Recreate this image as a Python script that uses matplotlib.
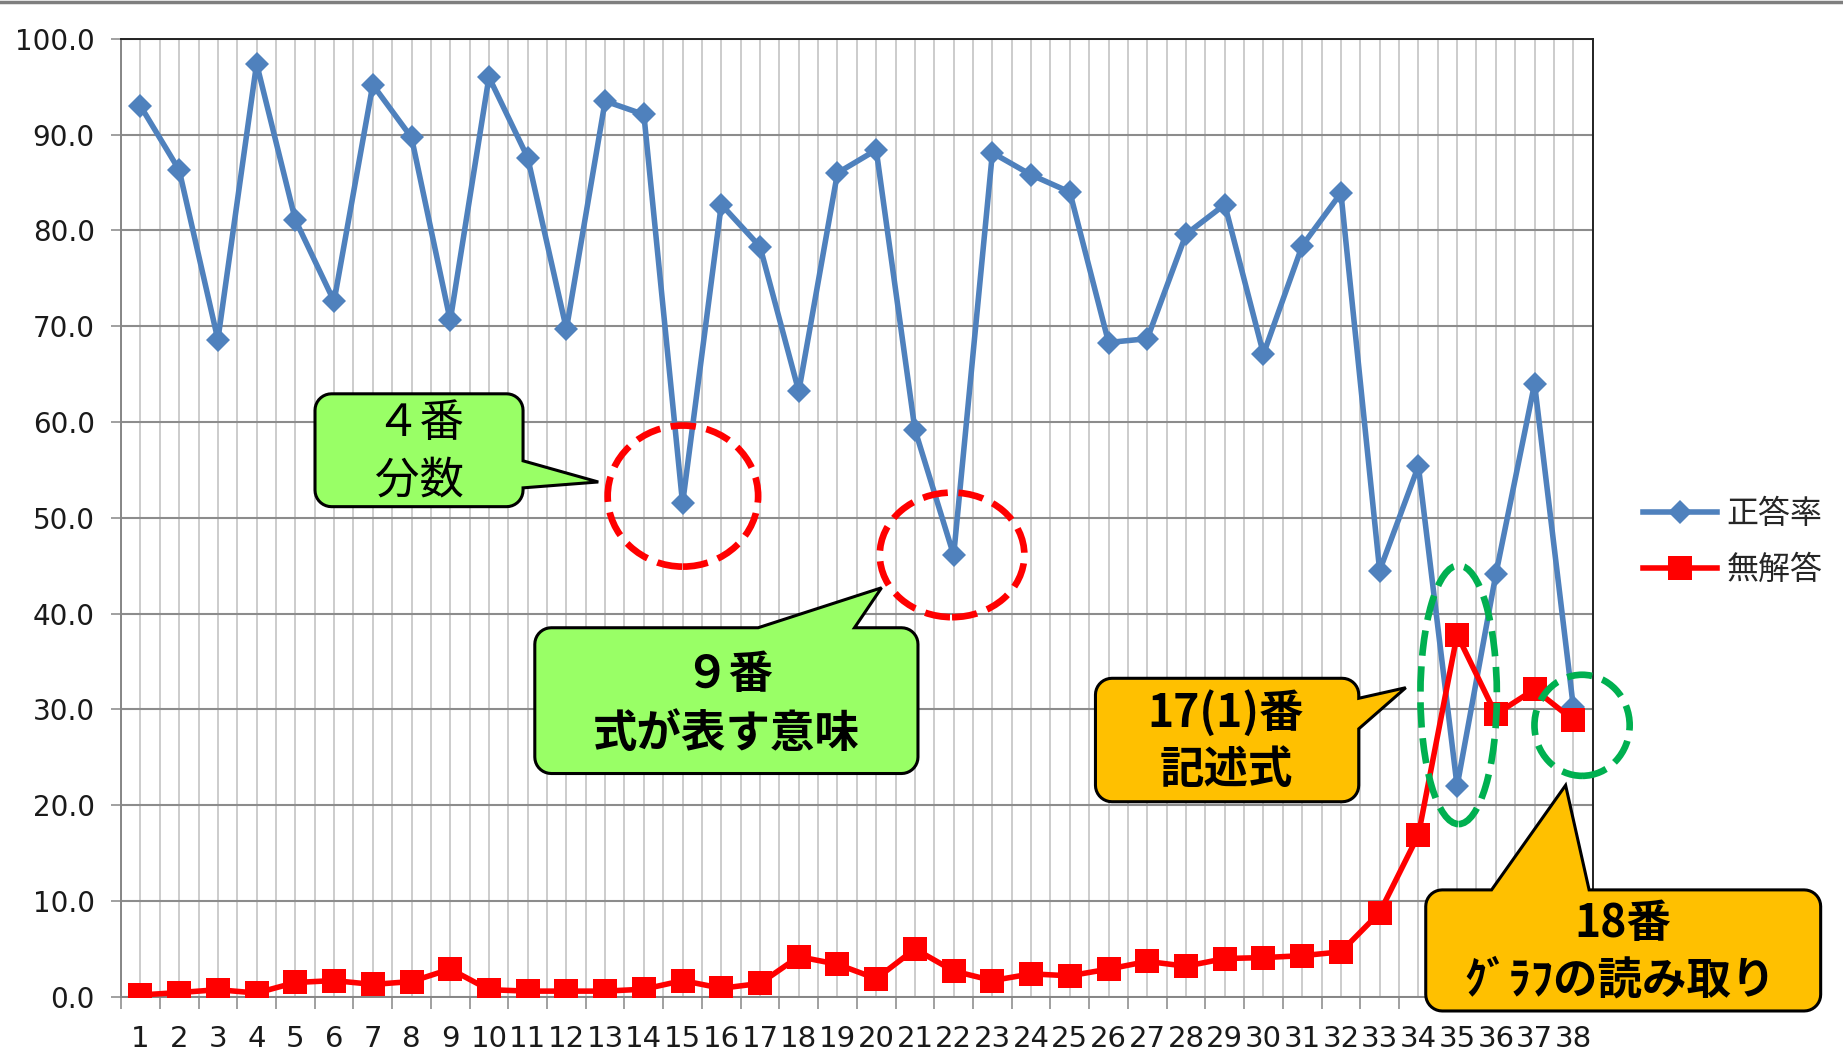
import numpy as np
import matplotlib.pyplot as plt
from matplotlib.patches import Polygon, Ellipse
from matplotlib.lines import Line2D

plt.rcParams['font.family'] = ['Noto Sans CJK JP', 'DejaVu Sans']

# data
questions = list(range(1, 39))
correct_rate = [93.0, 86.3, 68.6, 97.4, 81.1, 72.6, 95.2, 89.7, 70.6, 96.0,
                87.6, 69.7, 93.5, 92.1, 51.5, 82.7, 78.3, 63.2, 86.0, 88.4,
                59.2, 46.1, 88.1, 85.8, 84.0, 68.3, 68.7, 79.6, 82.7, 67.1,
                78.4, 83.9, 44.5, 55.4, 22.0, 44.1, 64.0, 30.3]
no_answer_rate = [0.2, 0.45, 0.75, 0.4, 1.5, 1.7, 1.3, 1.6, 2.9, 0.75,
                  0.6, 0.6, 0.6, 0.8, 1.7, 0.9, 1.4, 4.2, 3.4, 1.9,
                  5.0, 2.7, 1.7, 2.4, 2.2, 2.9, 3.7, 3.2, 4.0, 4.1,
                  4.3, 4.7, 8.8, 16.9, 37.8, 29.5, 32.1, 28.9]
y_ticks = np.arange(0, 101, 10)

# layout is sketched on a 1568x900 grid (y down), converted to figure fraction
W, H = 1568, 900


def px(x, y):
    return (x / W, 1 - y / H)


fig = plt.figure(figsize=(18.43, 10.58), dpi=100)
ax = fig.add_axes([103 / W, 1 - 848 / H, (1355 - 103) / W, (848 - 33) / H])

ax.plot(questions, correct_rate, color='#4F81BD', lw=4, marker='D', ms=12.5,
        mew=0, label='正答率', zorder=3)
ax.plot(questions, no_answer_rate, color='#FF0000', lw=4, marker='s', ms=17,
        mew=0, label='無解答', zorder=4)

ax.set_xlim(0.5, 38.5)
ax.set_ylim(0, 100)
ax.set_xticks(np.arange(0.5, 39, 1))
ax.set_xticklabels([])
ax.set_xticks(questions, minor=True)
ax.set_xticklabels([str(q) for q in questions], minor=True)
ax.tick_params(axis='x', which='major', length=8.5, width=1.1, color='#868686')
ax.tick_params(axis='x', which='minor', length=0, pad=20, labelsize=21,
               labelcolor='#1a1a1a')
ax.set_yticks(y_ticks)
ax.set_yticklabels([f'{v:.1f}' for v in y_ticks])
ax.tick_params(axis='y', length=7, width=1.1, color='#868686', pad=12,
               labelsize=20, labelcolor='#1a1a1a')
for lab in ax.get_xticklabels(minor=True) + ax.get_yticklabels():
    lab.set_family('DejaVu Sans')

ax.grid(axis='x', which='both', color='#BFBFBF', lw=1.1)
ax.grid(axis='y', which='major', color='#8C8C8C', lw=1.5)
ax.set_axisbelow(True)
for s in ['left', 'bottom']:
    ax.spines[s].set_color('#868686')
    ax.spines[s].set_linewidth(1.4)
for s in ['top', 'right']:
    ax.spines[s].set_color('#222222')
    ax.spines[s].set_linewidth(1.4)

ax.legend(loc='center left', bbox_to_anchor=px(1398, 461),
          bbox_transform=fig.transFigure, frameon=False, fontsize=23,
          handlelength=2.3, handletextpad=0.3, labelspacing=0.75,
          borderpad=0, borderaxespad=0, labelcolor='#262626')

# gray rule along the top edge
fig.add_artist(Line2D([0, 1], [1 - 1.5 / H] * 2, transform=fig.transFigure,
                      color='#7F7F7F', lw=2.5))


def callout(x0, y0, x1, y1, side, a, b, tip, color, r=14):
    pts = []

    def arc(cx, cy, t0, t1):
        for t in np.linspace(t0, t1, 10):
            pts.append((cx + r * np.cos(t), cy + r * np.sin(t)))

    arc(x0 + r, y0 + r, np.pi, 1.5 * np.pi)
    if side == 'top':
        pts.extend([(a, y0), tip, (b, y0)])
    arc(x1 - r, y0 + r, 1.5 * np.pi, 2 * np.pi)
    if side == 'right':
        pts.extend([(x1, a), tip, (x1, b)])
    arc(x1 - r, y1 - r, 0, 0.5 * np.pi)
    arc(x0 + r, y1 - r, 0.5 * np.pi, np.pi)
    fig.add_artist(Polygon([px(*p) for p in pts], closed=True,
                           transform=fig.transFigure, facecolor=color,
                           edgecolor='black', lw=2.2, zorder=6))


def ring(cx, cy, w, h, color):
    fig.add_artist(Ellipse(px(cx, cy), w / W, h / H, transform=fig.transFigure,
                           fill=False, edgecolor=color, lw=4.8,
                           linestyle=(0, (3.8, 1.6)), zorder=5))


def label(x, y, s, weight='normal'):
    fig.text(*px(x, y), s, ha='center', va='center', fontsize=32,
             weight=weight, color='black', zorder=7)


ring(581, 422, 128, 120, '#FF0000')
ring(810, 472, 123, 106, '#FF0000')
ring(1241, 591, 65, 220, '#00B050')
ring(1346, 617, 81, 86, '#00B050')

callout(268, 335, 445, 431, 'right', 392, 415, (509, 410), '#99FF66')
label(357, 360, '４番')
label(357, 409, '分数')

callout(455, 534, 781, 658, 'top', 645, 727, (750, 500), '#99FF66')
label(620, 574, '９番', 'bold')
label(618, 624, '式が表す意味', 'bold')

callout(932, 577, 1156, 682, 'right', 594, 620, (1196, 585), '#FFC000')
label(1043, 607, '17(1)番', 'bold')
label(1043, 655, '記述式', 'bold')

callout(1213, 757, 1549, 860, 'top', 1269, 1352, (1332, 668), '#FFC000')
label(1381, 786, '18番', 'bold')
label(1378, 834, 'ｸﾞﾗﾌの読み取り', 'bold')

fig.savefig('out.png', dpi=100)
